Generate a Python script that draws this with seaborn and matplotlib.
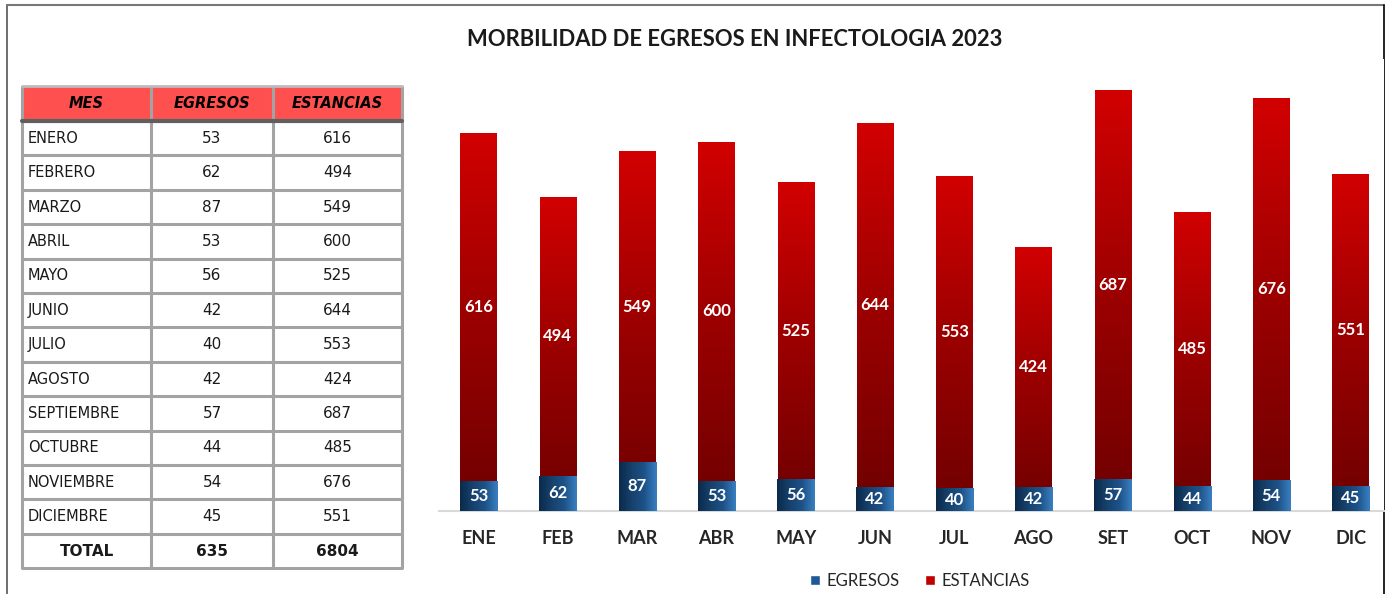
import numpy as np
import pandas as pd
import matplotlib
matplotlib.use("Agg")
import matplotlib.pyplot as plt
import seaborn as sns
from matplotlib.colors import LinearSegmentedColormap
from matplotlib.patches import Rectangle, Patch

# Datos
meses = ["ENERO", "FEBRERO", "MARZO", "ABRIL", "MAYO", "JUNIO", "JULIO",
         "AGOSTO", "SEPTIEMBRE", "OCTUBRE", "NOVIEMBRE", "DICIEMBRE"]
meses_abrev = ["ENE", "FEB", "MAR", "ABR", "MAY", "JUN", "JUL",
               "AGO", "SET", "OCT", "NOV", "DIC"]
egresos = [53, 62, 87, 53, 56, 42, 40, 42, 57, 44, 54, 45]
estancias = [616, 494, 549, 600, 525, 644, 553, 424, 687, 485, 676, 551]

df = pd.DataFrame({"mes": meses_abrev, "egresos": egresos, "estancias": estancias})
df["total"] = df["egresos"] + df["estancias"]

sns.set_style("white")
plt.rcParams["font.family"] = ["Lato", "DejaVu Sans"]

W, H = 1390, 594
fig = plt.figure(figsize=(W / 100, H / 100), dpi=100)

# ---------- capa de fondo: marco y tabla (coordenadas en pixeles) ----------
bg = fig.add_axes([0, 0, 1, 1])
bg.set_xlim(0, W)
bg.set_ylim(H, 0)
bg.axis("off")

bg.plot([7, 7], [5, H + 5], color="#555555", lw=1.2)
bg.plot([7, 1384], [5, 5], color="#777777", lw=1.5)
bg.plot([1384, 1384], [5, H + 5], color="#000000", lw=1.2)

cols = [22, 151, 273, 402]
head_top, head_bot = 86, 121
row_h = 34.4
n_rows = len(meses) + 1
grid = "#a3a3a3"

bg.add_patch(Rectangle((cols[0], head_top), cols[3] - cols[0], head_bot - head_top,
                       facecolor="#ff5050", edgecolor="none"))
headers = ["MES", "EGRESOS", "ESTANCIAS"]
for i, h in enumerate(headers):
    bg.text((cols[i] + cols[i + 1]) / 2, (head_top + head_bot) / 2, h,
            ha="center", va="center", fontsize=10.5, fontweight="bold",
            fontstyle="italic", family="DejaVu Sans", color="black")

filas = [(m, str(e), str(s)) for m, e, s in zip(meses, egresos, estancias)]
filas.append(("TOTAL", str(sum(egresos)), str(sum(estancias))))
for r, fila in enumerate(filas):
    yc = head_bot + row_h * (r + 0.5)
    bold = "bold" if r == len(filas) - 1 else "normal"
    for c, val in enumerate(fila):
        if c == 0 and r < len(filas) - 1:
            bg.text(cols[0] + 6, yc, val, ha="left", va="center", fontsize=10.5,
                    family="DejaVu Sans", color="#1a1a1a")
        else:
            bg.text((cols[c] + cols[c + 1]) / 2, yc, val, ha="center", va="center",
                    fontsize=11, fontweight=bold, family="DejaVu Sans", color="#1a1a1a")

tab_bot = head_bot + row_h * n_rows
for x in cols:
    bg.plot([x, x], [head_top, tab_bot], color=grid, lw=2.2, solid_capstyle="butt")
bg.plot([cols[0], cols[3]], [head_top, head_top], color="#bbbbbb", lw=2)
for r in range(1, n_rows + 1):
    y = head_bot + row_h * r
    bg.plot([cols[0], cols[3]], [y, y], color=grid, lw=2.2)
bg.plot([cols[0], cols[3]], [head_bot, head_bot], color="#5f5f5f", lw=3)

# ---------- grafico de barras apiladas ----------
ax = fig.add_axes([439 / W, 83 / H, (1384 - 439) / W, (511 - 58.6) / H])

sns.barplot(data=df, x="mes", y="total", color="#c00000", width=0.46,
            saturation=1, ax=ax)
n_red = len(ax.patches)
sns.barplot(data=df, x="mes", y="egresos", color="#1f4e79", width=0.47,
            saturation=1, ax=ax)

red_cmap = LinearSegmentedColormap.from_list("rojo", ["#6e0000", "#9a0000", "#d20000"])
blue_cmap = LinearSegmentedColormap.from_list("azul", ["#0b2a4a", "#16416c", "#1d5288", "#3a80c2"])

for i, p in enumerate(ax.patches):
    x0, y0 = p.get_x(), p.get_y()
    w, h = p.get_width(), p.get_height()
    if i < n_red:
        grad = np.linspace(0, 1, 256).reshape(-1, 1)
        cmap, z = red_cmap, 2
    else:
        grad = np.linspace(0, 1, 256).reshape(1, -1)
        cmap, z = blue_cmap, 3
    im = ax.imshow(grad, extent=[x0, x0 + w, y0, y0 + h], origin="lower",
                   cmap=cmap, aspect="auto", zorder=z, interpolation="bilinear")
    im.set_clip_path(p)
    p.set_facecolor("none")
    p.set_edgecolor("none")

ax.set_xlim(-0.5, 11.42)
ax.set_ylim(0, 800)

for i, (e, s) in enumerate(zip(egresos, estancias)):
    ax.text(i, e + s / 2, str(s), ha="center", va="center", color="white",
            fontsize=12, fontweight="bold", zorder=5)
    ax.text(i, e / 2, str(e), ha="center", va="center", color="white",
            fontsize=12, fontweight="bold", zorder=5)

ax.set_xlabel("")
ax.set_ylabel("")
ax.set_yticks([])
ax.tick_params(axis="x", length=0, pad=14)
for lab in ax.get_xticklabels():
    lab.set_fontsize(13)
    lab.set_fontweight("bold")
    lab.set_color("#262626")
for s in ["top", "left", "right"]:
    ax.spines[s].set_visible(False)
ax.spines["bottom"].set_color("#d9d9d9")
ax.spines["bottom"].set_linewidth(1.5)

fig.text(735 / W, 1 - 40 / H, "MORBILIDAD DE EGRESOS EN INFECTOLOGIA 2023",
         ha="center", va="center", fontsize=15.8, fontweight="bold", color="#1a1a1a")

handles = [Patch(facecolor="#1f5a96", label="EGRESOS"),
           Patch(facecolor="#c00000", label="ESTANCIAS")]
fig.legend(handles=handles, loc="center", bbox_to_anchor=(920 / W, 1 - 581 / H),
           ncol=2, frameon=False, fontsize=12, handlelength=0.6, handleheight=0.6,
           handletextpad=0.4, columnspacing=1.5)

fig.savefig("out.png", dpi=100)
